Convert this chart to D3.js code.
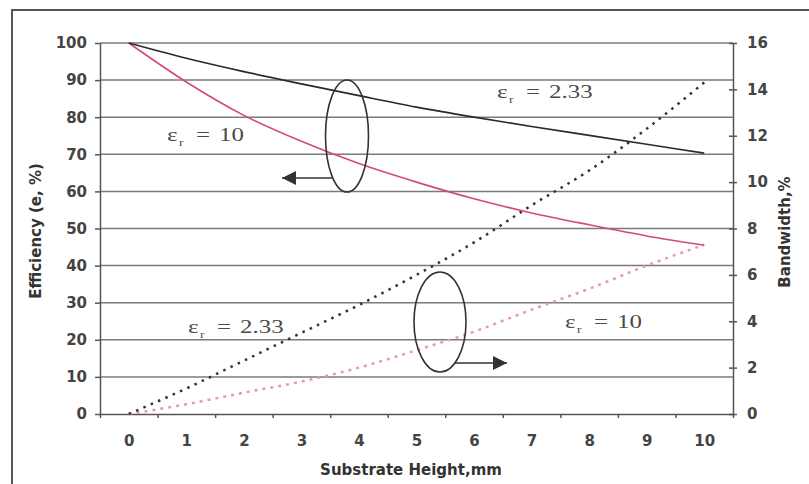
<!DOCTYPE html>
<html>
<head>
<meta charset="utf-8">
<script src="https://cdn.jsdelivr.net/npm/d3@7"></script>
<style>
  body { margin: 0; background: #fff; }
  .tick text { font-family: "DejaVu Sans", sans-serif; font-weight: bold; font-size: 15px; fill: #444; }
  .title { font-family: "DejaVu Sans", sans-serif; font-weight: bold; font-size: 15px; fill: #333; }
  .eps { font-family: "Liberation Serif", "Times New Roman", serif; font-size: 18.5px; fill: #4a4a4a; }
</style>
</head>
<body>
<div id="chart"></div>
<script>
// substrate height, mm
const heights = [0, 1, 2, 3, 4, 5, 6, 7, 8, 9, 10];
// efficiency, %
const effLow = [100, 95.9, 92.3, 89.0, 85.8, 82.7, 80.0, 77.5, 75.1, 72.7, 70.3];   // er = 2.33
const effHigh = [100, 89.5, 80.5, 73.5, 67.5, 62.5, 58.0, 54.2, 51.0, 48.0, 45.5];  // er = 10
// bandwidth, %
const bwLow = [0, 1.1, 2.3, 3.5, 4.7, 6.0, 7.4, 9.0, 10.5, 12.3, 14.3];   // er = 2.33
const bwHigh = [0, 0.42, 0.92, 1.4, 2.0, 2.75, 3.55, 4.5, 5.4, 6.4, 7.3]; // er = 10
const effTicks = [0, 10, 20, 30, 40, 50, 60, 70, 80, 90, 100];
const bwTicks = [0, 2, 4, 6, 8, 10, 12, 14, 16];

const W = 809, H = 484;
const plot = {left: 100, right: 733, top: 43, bottom: 414};

const svg = d3.select('#chart').append('svg')
    .attr('width', W).attr('height', H);

// frame
svg.append('rect')
    .attr('x', 12).attr('y', 10)
    .attr('width', W + 20).attr('height', H + 20)
    .attr('fill', 'none').attr('stroke', '#555').attr('stroke-width', 2);

const x = d3.scalePoint().domain(heights).range([plot.left, plot.right]).padding(0.5);
const xEdge = d3.scaleLinear().domain([-0.5, 10.5]).range([plot.left, plot.right]);
const y = d3.scaleLinear().domain([0, 100]).range([plot.bottom, plot.top]);
const y2 = d3.scaleLinear().domain([0, 16]).range([plot.bottom, plot.top]);

// gridlines
svg.append('g').selectAll('line')
    .data(effTicks.slice(1))
    .join('line')
    .attr('x1', plot.left).attr('x2', plot.right)
    .attr('y1', d => y(d)).attr('y2', d => y(d))
    .attr('stroke', '#7a7a7a').attr('stroke-width', 1.5);

// left axis
const gL = svg.append('g')
    .attr('transform', 'translate(' + plot.left + ',0)')
    .call(d3.axisLeft(y).tickValues(effTicks).tickSize(5).tickPadding(8).tickSizeOuter(0));
// right axis
const gR = svg.append('g')
    .attr('transform', 'translate(' + plot.right + ',0)')
    .call(d3.axisRight(y2).tickValues(bwTicks).tickSize(4).tickPadding(10).tickSizeOuter(0));
gR.selectAll('.tick line').attr('x1', -4);
// x axis: boundary ticks + centered labels
const gX = svg.append('g')
    .attr('transform', 'translate(0,' + plot.bottom + ')')
    .call(d3.axisBottom(xEdge).tickValues(d3.range(-0.5, 11, 1)).tickFormat('').tickSize(4).tickSizeOuter(0));
const gX2 = svg.append('g')
    .attr('transform', 'translate(0,' + plot.bottom + ')')
    .call(d3.axisBottom(x).tickSize(0).tickPadding(21));
gX2.select('.domain').remove();

[gL, gR, gX].forEach(g => {
    g.select('.domain').attr('stroke', '#555').attr('stroke-width', 1.5);
    g.selectAll('.tick line').attr('stroke', '#555').attr('stroke-width', 1.5);
});

// axis titles
svg.append('text').attr('class', 'title')
    .attr('text-anchor', 'middle')
    .attr('transform', 'translate(41,231) rotate(-90)')
    .text('Efficiency (e, %)');
svg.append('text').attr('class', 'title')
    .attr('text-anchor', 'middle')
    .attr('transform', 'translate(790,232) rotate(-90)')
    .text('Bandwidth,%');
svg.append('text').attr('class', 'title')
    .attr('text-anchor', 'middle')
    .attr('x', 411).attr('y', 475)
    .text('Substrate Height,mm');

// lines
const lineEff = d3.line().curve(d3.curveMonotoneX)
    .x((d, i) => x(heights[i])).y(d => y(d));
const lineBw = d3.line().curve(d3.curveMonotoneX)
    .x((d, i) => x(heights[i])).y(d => y2(d));

svg.append('path').datum(bwHigh)
    .attr('d', lineBw).attr('fill', 'none')
    .attr('stroke', '#e59aae').attr('stroke-width', 2.5)
    .attr('stroke-dasharray', '3,5');
svg.append('path').datum(bwLow)
    .attr('d', lineBw).attr('fill', 'none')
    .attr('stroke', '#333').attr('stroke-width', 2.5)
    .attr('stroke-dasharray', '2.5,5.5');
svg.append('path').datum(effHigh)
    .attr('d', lineEff).attr('fill', 'none')
    .attr('stroke', '#d24a7c').attr('stroke-width', 1.6);
svg.append('path').datum(effLow)
    .attr('d', lineEff).attr('fill', 'none')
    .attr('stroke', '#2a2a2a').attr('stroke-width', 1.7);

// ellipses and arrows
svg.append('defs').append('marker')
    .attr('id', 'head').attr('viewBox', '0 0 10 10')
    .attr('refX', 10).attr('refY', 5)
    .attr('markerWidth', 24).attr('markerHeight', 14)
    .attr('markerUnits', 'userSpaceOnUse')
    .attr('orient', 'auto')
    .append('path').attr('d', 'M0,0 L10,5 L0,10 Z').attr('fill', '#333');

svg.append('ellipse')
    .attr('cx', 347).attr('cy', 136).attr('rx', 21.5).attr('ry', 56)
    .attr('fill', 'none').attr('stroke', '#333').attr('stroke-width', 1.6);
svg.append('line')
    .attr('x1', 332).attr('y1', 178).attr('x2', 282).attr('y2', 178)
    .attr('stroke', '#333').attr('stroke-width', 1.6)
    .attr('marker-end', 'url(#head)');

svg.append('ellipse')
    .attr('cx', 440).attr('cy', 322).attr('rx', 26).attr('ry', 50)
    .attr('fill', 'none').attr('stroke', '#333').attr('stroke-width', 1.6);
svg.append('line')
    .attr('x1', 454).attr('y1', 363).attr('x2', 507).attr('y2', 363)
    .attr('stroke', '#333').attr('stroke-width', 1.6)
    .attr('marker-end', 'url(#head)');

// epsilon labels: each piece placed separately, widened like the original
function piece(px, py, str, size) {
    const t = svg.append('text').attr('class', 'eps')
        .attr('transform', 'translate(' + px + ',' + py + ') scale(1.35,1)')
        .text(str);
    if (size) t.style('font-size', size + 'px');
}
function epsLabel(px, py, val) {
    piece(px, py, 'ε');
    piece(px + 12, py + 5, 'r', 10);
    piece(px + 29, py, '=');
    piece(px + 52, py, val);
}
epsLabel(497, 98, '2.33');
epsLabel(167, 141, '10');
epsLabel(188, 333, '2.33');
epsLabel(565, 328, '10');
</script>
</body>
</html>
